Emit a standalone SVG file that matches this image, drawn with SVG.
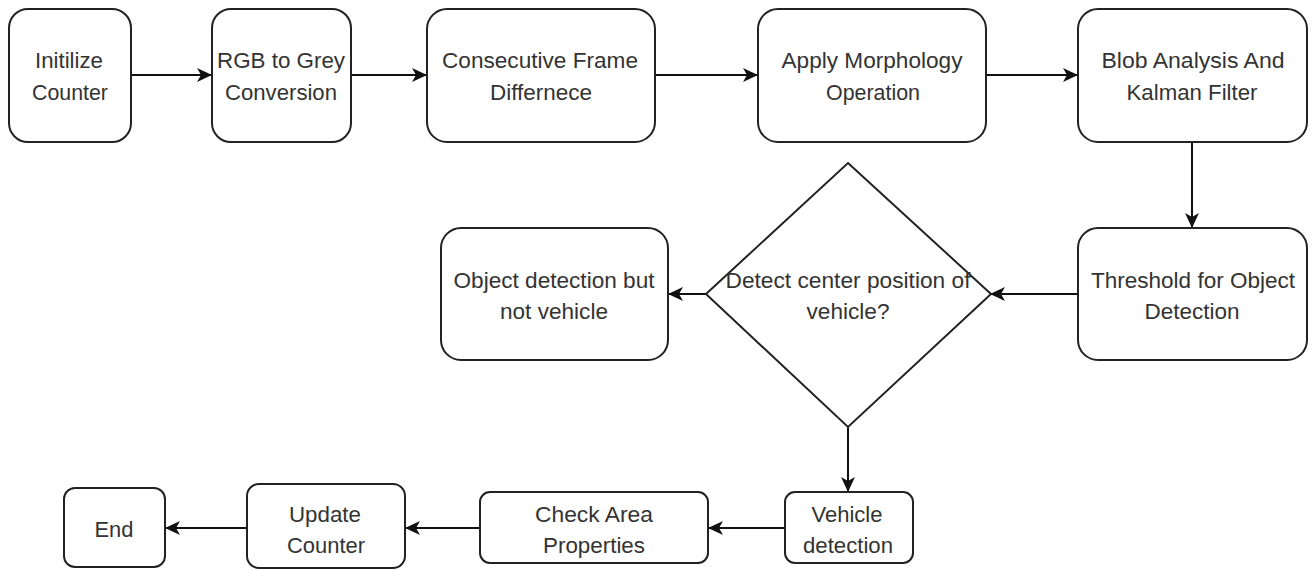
<svg xmlns="http://www.w3.org/2000/svg" width="1312" height="570" viewBox="0 0 1312 570">
  <style>
    .box { fill: #ffffff; stroke: #222222; stroke-width: 2; }
    .lbl { font-family: "Liberation Sans", Arimo, Arial, Helvetica, sans-serif; font-size: 22px; fill: #333333; text-anchor: middle; }
    .edge { fill: none; stroke: #111111; stroke-width: 2; }
  </style>
  <defs>
    <marker id="arrow" viewBox="0 0 15 14" refX="14" refY="7" markerWidth="15" markerHeight="14" markerUnits="userSpaceOnUse" orient="auto">
      <path d="M0,0 L15,7 L0,14 L4,7 Z" fill="#111111"/>
    </marker>
  </defs>
  <rect width="1312" height="570" fill="#ffffff"/>

  <!-- flow connectors -->
  <g id="connectors">
    <path class="edge" d="M131,75 H211" marker-end="url(#arrow)"/>
    <path class="edge" d="M351,75 H426" marker-end="url(#arrow)"/>
    <path class="edge" d="M655,75 H757" marker-end="url(#arrow)"/>
    <path class="edge" d="M986,75 H1077" marker-end="url(#arrow)"/>
    <path class="edge" d="M1192,142 V227" marker-end="url(#arrow)"/>
    <path class="edge" d="M1078,294 H991" marker-end="url(#arrow)"/>
    <path class="edge" d="M706,294 H669" marker-end="url(#arrow)"/>
    <path class="edge" d="M848,427 V491" marker-end="url(#arrow)"/>
    <path class="edge" d="M785,528 H709" marker-end="url(#arrow)"/>
    <path class="edge" d="M480,528 H406" marker-end="url(#arrow)"/>
    <path class="edge" d="M247,528 H166" marker-end="url(#arrow)"/>
  </g>

  <g id="init-counter">
    <rect class="box" x="9" y="9" width="122" height="133" rx="19"/>
    <text class="lbl" x="69" y="68" textLength="68" lengthAdjust="spacingAndGlyphs">Initilize</text>
    <text class="lbl" x="70" y="100" textLength="76" lengthAdjust="spacingAndGlyphs">Counter</text>
  </g>
  <g id="rgb-grey">
    <rect class="box" x="212" y="9" width="139" height="133" rx="19"/>
    <text class="lbl" x="281" y="68" textLength="128" lengthAdjust="spacingAndGlyphs">RGB to Grey</text>
    <text class="lbl" x="281" y="100" textLength="112" lengthAdjust="spacingAndGlyphs">Conversion</text>
  </g>
  <g id="frame-diff">
    <rect class="box" x="427" y="9" width="228" height="133" rx="20"/>
    <text class="lbl" x="540" y="68" textLength="196" lengthAdjust="spacingAndGlyphs">Consecutive Frame</text>
    <text class="lbl" x="541" y="100" textLength="102" lengthAdjust="spacingAndGlyphs">Differnece</text>
  </g>
  <g id="morphology">
    <rect class="box" x="758" y="9" width="228" height="133" rx="20"/>
    <text class="lbl" x="872" y="68" textLength="181" lengthAdjust="spacingAndGlyphs">Apply Morphology</text>
    <text class="lbl" x="873" y="100" textLength="94" lengthAdjust="spacingAndGlyphs">Operation</text>
  </g>
  <g id="blob-kalman">
    <rect class="box" x="1078" y="9" width="229" height="133" rx="20"/>
    <text class="lbl" x="1193" y="68" textLength="183" lengthAdjust="spacingAndGlyphs">Blob Analysis And</text>
    <text class="lbl" x="1192" y="100" textLength="131" lengthAdjust="spacingAndGlyphs">Kalman Filter</text>
  </g>
  <g id="threshold">
    <rect class="box" x="1078" y="228" width="229" height="132" rx="20"/>
    <text class="lbl" x="1193" y="288" textLength="204" lengthAdjust="spacingAndGlyphs">Threshold for Object</text>
    <text class="lbl" x="1192" y="319" textLength="95" lengthAdjust="spacingAndGlyphs">Detection</text>
  </g>
  <g id="center-decision">
    <polygon class="box" points="848,163 991,294 848,427 706,294"/>
    <text class="lbl" x="848" y="288" textLength="245" lengthAdjust="spacingAndGlyphs">Detect center position of</text>
    <text class="lbl" x="848" y="319" textLength="83" lengthAdjust="spacingAndGlyphs">vehicle?</text>
  </g>
  <g id="not-vehicle">
    <rect class="box" x="441" y="228" width="227" height="132" rx="20"/>
    <text class="lbl" x="554" y="288" textLength="201" lengthAdjust="spacingAndGlyphs">Object detection but</text>
    <text class="lbl" x="554" y="319" textLength="108" lengthAdjust="spacingAndGlyphs">not vehicle</text>
  </g>
  <g id="vehicle-detection">
    <rect class="box" x="785" y="492" width="128" height="71" rx="10"/>
    <text class="lbl" x="847" y="522" textLength="71" lengthAdjust="spacingAndGlyphs">Vehicle</text>
    <text class="lbl" x="848" y="553" textLength="90" lengthAdjust="spacingAndGlyphs">detection</text>
  </g>
  <g id="area-properties">
    <rect class="box" x="480" y="492" width="228" height="71" rx="10"/>
    <text class="lbl" x="594" y="522" textLength="118" lengthAdjust="spacingAndGlyphs">Check Area</text>
    <text class="lbl" x="594" y="553" textLength="102" lengthAdjust="spacingAndGlyphs">Properties</text>
  </g>
  <g id="update-counter">
    <rect class="box" x="247" y="484" width="158" height="84" rx="12"/>
    <text class="lbl" x="325" y="522" textLength="72" lengthAdjust="spacingAndGlyphs">Update</text>
    <text class="lbl" x="326" y="553" textLength="78" lengthAdjust="spacingAndGlyphs">Counter</text>
  </g>
  <g id="end">
    <rect class="box" x="64" y="488" width="101" height="79" rx="11"/>
    <text class="lbl" x="114" y="537" textLength="39" lengthAdjust="spacingAndGlyphs">End</text>
  </g>
</svg>
